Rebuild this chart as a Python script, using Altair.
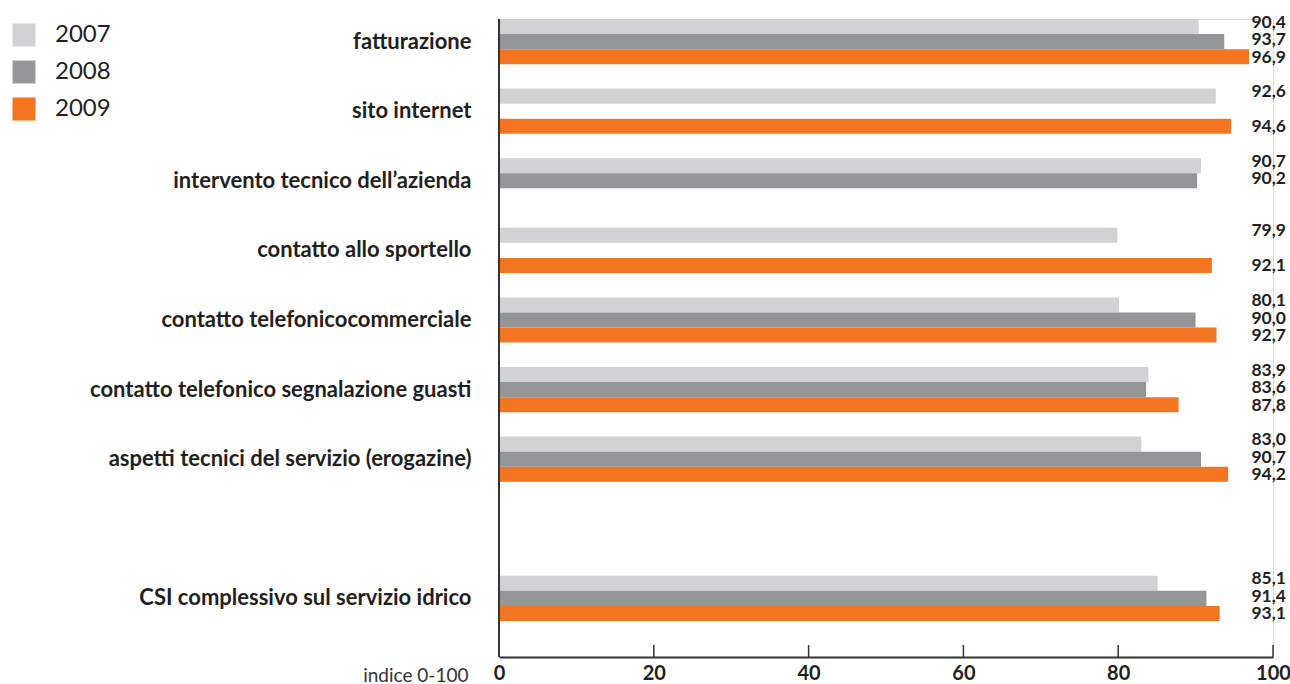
import altair as alt
import pandas as pd

# Customer satisfaction index (0-100) by service aspect and year
categories = [
    "fatturazione",
    "sito internet",
    "intervento tecnico dell’azienda",
    "contatto allo sportello",
    "contatto telefonicocommerciale",
    "contatto telefonico segnalazione guasti",
    "aspetti tecnici del servizio (erogazine)",
    "CSI complessivo sul servizio idrico",
]
years = ["2007", "2008", "2009"]
v2007 = [90.4, 92.6, 90.7, 79.9, 80.1, 83.9, 83.0, 85.1]
v2008 = [93.7, None, 90.2, None, 90.0, 83.6, 90.7, 91.4]
v2009 = [96.9, 94.6, None, 92.1, 92.7, 87.8, 94.2, 93.1]
tick_values = [0, 20, 40, 60, 80, 100]

colors = ["#D1D2D4", "#939598", "#F37421"]
FONT = "Lato"
INK = "#231F20"

rows = []
for year, series in zip(years, [v2007, v2008, v2009]):
    for cat, val in zip(categories, series):
        if val is not None:
            rows.append({"cat": cat, "year": year, "value": val,
                         "label": f"{val:.1f}".replace(".", ",")})
df = pd.DataFrame(rows)
ticks_df = pd.DataFrame({"t": tick_values})

# a blank slot separates the overall index from the single aspects
y_domain = categories[:7] + [" "] + categories[7:]

W, H = 774, 638

y_enc = alt.Y(
    "cat:N",
    scale=alt.Scale(domain=y_domain, range=[0, 602], paddingInner=0.35, paddingOuter=0),
    axis=alt.Axis(title=None, domain=False, ticks=False, labelFont=FONT,
                  labelFontWeight="bold", labelFontSize=22, labelColor=INK,
                  labelPadding=28, labelLimit=480),
)
y_off = alt.YOffset("year:N", scale=alt.Scale(domain=years, paddingInner=0, paddingOuter=0))
x_enc = alt.X(
    "value:Q",
    scale=alt.Scale(domain=[0, 100], nice=False),
    axis=alt.Axis(title="indice 0-100", values=tick_values, grid=False, ticks=False,
                  domainColor="#333333", domainWidth=2, labelFont=FONT,
                  labelFontWeight="bold", labelFontSize=20, labelColor=INK,
                  labelPadding=6, labelFlush=False,
                  titleFont=FONT, titleFontWeight="normal", titleFontSize=19,
                  titleColor="#333333", titleX=-31, titleY=18,
                  titleAlign="right", titleBaseline="middle"),
)

bars = alt.Chart(df).mark_bar().encode(
    x=x_enc,
    y=y_enc,
    yOffset=y_off,
    color=alt.Color(
        "year:N",
        scale=alt.Scale(domain=years, range=colors),
        legend=alt.Legend(title=None, orient="none", legendX=-487, legendY=4,
                          symbolType="square", symbolSize=529, symbolStrokeWidth=0,
                          labelFont=FONT, labelFontSize=24, labelColor=INK,
                          labelOffset=19, rowPadding=13, padding=0),
    ),
)

# value labels at the right edge, one layer per year so each can be nudged
label_shift = {"2007": -4, "2008": -1.5, "2009": 1}
label_layers = [
    alt.Chart(df).transform_filter(alt.datum.year == yr).mark_text(
        align="right", baseline="middle", font=FONT, fontWeight="bold",
        fontSize=17.5, color=INK, dy=label_shift[yr],
    ).encode(
        x=alt.value(787),
        y=alt.Y("cat:N", title=None),
        yOffset=alt.YOffset("year:N"),
        text="label:N",
    )
    for yr in years
]

# inward-pointing tick marks on the value axis
tick_marks = alt.Chart(ticks_df).mark_rule(color="#333333", strokeWidth=1.5).encode(
    x=alt.X("t:Q"),
    y=alt.value(H - 12),
    y2=alt.value(H),
)

left_line = alt.Chart(ticks_df.head(1)).mark_rule(color="#333333", strokeWidth=2).encode(
    x=alt.value(0),
    y=alt.value(0),
    y2=alt.value(H),
)

chart = (
    alt.layer(bars, *label_layers, tick_marks, left_line)
    .properties(width=W, height=H,
                autosize=alt.AutoSizeParams(type="none"),
                padding={"left": 499, "top": 19, "right": 17, "bottom": 27})
    .configure_view(stroke=None)
    .configure(background="white")
)

chart.save("out.html", embed_options={"renderer": "svg", "actions": False})
